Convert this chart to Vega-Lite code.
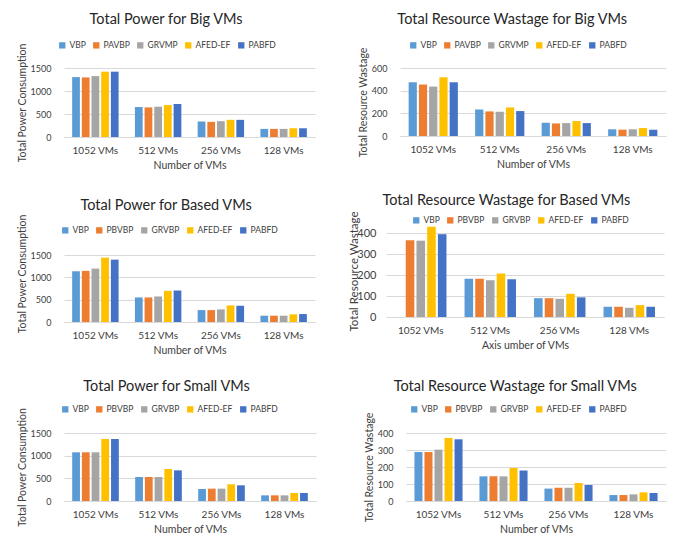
{
  "$schema": "https://vega.github.io/schema/vega-lite/v6.json",
  "padding": {"left": 17, "top": 11, "right": 5, "bottom": 5},
  "background": "white",
  "spacing": 22,
  "resolve": {"scale": {"color": "independent", "x": "independent", "y": "independent", "xOffset": "independent"}, "legend": {"color": "independent"}},
  "vconcat": [
    {
      "spacing": 43,
      "resolve": {"scale": {"color": "independent", "x": "independent", "y": "independent", "xOffset": "independent"}, "legend": {"color": "independent"}},
      "hconcat": [
        {
          "title": "Total Power for Big VMs",
          "width": 251, "height": 69,
          "data": {"values": [
            {"vms": "1052 VMs", "algo": "VBP", "value": 1302}, {"vms": "1052 VMs", "algo": "PAVBP", "value": 1295}, {"vms": "1052 VMs", "algo": "GRVMP", "value": 1324}, {"vms": "1052 VMs", "algo": "AFED-EF", "value": 1420}, {"vms": "1052 VMs", "algo": "PABFD", "value": 1420},
            {"vms": "512 VMs", "algo": "VBP", "value": 651}, {"vms": "512 VMs", "algo": "PAVBP", "value": 644}, {"vms": "512 VMs", "algo": "GRVMP", "value": 659}, {"vms": "512 VMs", "algo": "AFED-EF", "value": 695}, {"vms": "512 VMs", "algo": "PABFD", "value": 717},
            {"vms": "256 VMs", "algo": "VBP", "value": 337}, {"vms": "256 VMs", "algo": "PAVBP", "value": 329}, {"vms": "256 VMs", "algo": "GRVMP", "value": 344}, {"vms": "256 VMs", "algo": "AFED-EF", "value": 373}, {"vms": "256 VMs", "algo": "PABFD", "value": 373},
            {"vms": "128 VMs", "algo": "VBP", "value": 176}, {"vms": "128 VMs", "algo": "PAVBP", "value": 176}, {"vms": "128 VMs", "algo": "GRVMP", "value": 176}, {"vms": "128 VMs", "algo": "AFED-EF", "value": 190}, {"vms": "128 VMs", "algo": "PABFD", "value": 190}
          ]},
          "mark": {"type": "bar"},
          "encoding": {
            "x": {"field": "vms", "type": "nominal", "title": "Number of VMs", "scale": {"domain": ["1052 VMs", "512 VMs", "256 VMs", "128 VMs"], "paddingInner": 0.26, "paddingOuter": 0.13}},
            "xOffset": {"field": "algo", "type": "nominal", "scale": {"domain": ["VBP", "PAVBP", "GRVMP", "AFED-EF", "PABFD"], "paddingInner": 0.2}},
            "y": {"field": "value", "type": "quantitative", "title": "Total Power Consumption", "scale": {"domain": [0, 1500], "nice": false}, "axis": {"values": [0, 500, 1000, 1500], "format": "d"}},
            "color": {"field": "algo", "type": "nominal", "title": null, "scale": {"domain": ["VBP", "PAVBP", "GRVMP", "AFED-EF", "PABFD"], "range": ["#5B9BD5", "#ED7D31", "#A5A5A5", "#FFC000", "#4472C4"]}, "legend": {"orient": "none", "direction": "horizontal", "legendX": -6, "legendY": -27}}
          }
        },
        {
          "title": "Total Resource Wastage for Big VMs",
          "width": 266, "height": 68,
          "data": {"values": [
            {"vms": "1052 VMs", "algo": "VBP", "value": 474}, {"vms": "1052 VMs", "algo": "PAVBP", "value": 454}, {"vms": "1052 VMs", "algo": "GRVMP", "value": 436}, {"vms": "1052 VMs", "algo": "AFED-EF", "value": 518}, {"vms": "1052 VMs", "algo": "PABFD", "value": 474},
            {"vms": "512 VMs", "algo": "VBP", "value": 234}, {"vms": "512 VMs", "algo": "PAVBP", "value": 217}, {"vms": "512 VMs", "algo": "GRVMP", "value": 214}, {"vms": "512 VMs", "algo": "AFED-EF", "value": 252}, {"vms": "512 VMs", "algo": "PABFD", "value": 220},
            {"vms": "256 VMs", "algo": "VBP", "value": 117}, {"vms": "256 VMs", "algo": "PAVBP", "value": 111}, {"vms": "256 VMs", "algo": "GRVMP", "value": 114}, {"vms": "256 VMs", "algo": "AFED-EF", "value": 132}, {"vms": "256 VMs", "algo": "PABFD", "value": 114},
            {"vms": "128 VMs", "algo": "VBP", "value": 59}, {"vms": "128 VMs", "algo": "PAVBP", "value": 56}, {"vms": "128 VMs", "algo": "GRVMP", "value": 59}, {"vms": "128 VMs", "algo": "AFED-EF", "value": 70}, {"vms": "128 VMs", "algo": "PABFD", "value": 56}
          ]},
          "mark": {"type": "bar"},
          "encoding": {
            "x": {"field": "vms", "type": "nominal", "title": "Number of VMs", "scale": {"domain": ["1052 VMs", "512 VMs", "256 VMs", "128 VMs"], "paddingInner": 0.26, "paddingOuter": 0.13}},
            "xOffset": {"field": "algo", "type": "nominal", "scale": {"domain": ["VBP", "PAVBP", "GRVMP", "AFED-EF", "PABFD"], "paddingInner": 0.2}},
            "y": {"field": "value", "type": "quantitative", "title": "Total Resource Wastage", "scale": {"domain": [0, 600], "nice": false}, "axis": {"values": [0, 200, 400, 600], "format": "d"}},
            "color": {"field": "algo", "type": "nominal", "title": null, "scale": {"domain": ["VBP", "PAVBP", "GRVMP", "AFED-EF", "PABFD"], "range": ["#5B9BD5", "#ED7D31", "#A5A5A5", "#FFC000", "#4472C4"]}, "legend": {"orient": "none", "direction": "horizontal", "legendX": 9, "legendY": -27}}
          }
        }
      ]
    },
    {
      "spacing": 33,
      "resolve": {"scale": {"color": "independent", "x": "independent", "y": "independent", "xOffset": "independent"}, "legend": {"color": "independent"}},
      "hconcat": [
        {
          "title": {"text": "Total Power for Based VMs", "offset": 1},
          "width": 251, "height": 97,
          "data": {"values": [
            {"vms": "1052 VMs", "algo": "VBP", "value": 1136}, {"vms": "1052 VMs", "algo": "PBVBP", "value": 1144}, {"vms": "1052 VMs", "algo": "GRVBP", "value": 1196}, {"vms": "1052 VMs", "algo": "AFED-EF", "value": 1441}, {"vms": "1052 VMs", "algo": "PABFD", "value": 1396},
            {"vms": "512 VMs", "algo": "VBP", "value": 550}, {"vms": "512 VMs", "algo": "PBVBP", "value": 550}, {"vms": "512 VMs", "algo": "GRVBP", "value": 572}, {"vms": "512 VMs", "algo": "AFED-EF", "value": 698}, {"vms": "512 VMs", "algo": "PABFD", "value": 705},
            {"vms": "256 VMs", "algo": "VBP", "value": 267}, {"vms": "256 VMs", "algo": "PBVBP", "value": 267}, {"vms": "256 VMs", "algo": "GRVBP", "value": 282}, {"vms": "256 VMs", "algo": "AFED-EF", "value": 371}, {"vms": "256 VMs", "algo": "PABFD", "value": 364},
            {"vms": "128 VMs", "algo": "VBP", "value": 141}, {"vms": "128 VMs", "algo": "PBVBP", "value": 141}, {"vms": "128 VMs", "algo": "GRVBP", "value": 141}, {"vms": "128 VMs", "algo": "AFED-EF", "value": 171}, {"vms": "128 VMs", "algo": "PABFD", "value": 178}
          ]},
          "mark": {"type": "bar"},
          "encoding": {
            "x": {"field": "vms", "type": "nominal", "title": "Number of VMs", "scale": {"domain": ["1052 VMs", "512 VMs", "256 VMs", "128 VMs"], "paddingInner": 0.26, "paddingOuter": 0.13}},
            "xOffset": {"field": "algo", "type": "nominal", "scale": {"domain": ["VBP", "PBVBP", "GRVBP", "AFED-EF", "PABFD"], "paddingInner": 0.2}},
            "y": {"field": "value", "type": "quantitative", "title": "Total Power Consumption", "scale": {"domain": [0, 2172], "nice": false}, "axis": {"values": [0, 500, 1000, 1500], "format": "d"}},
            "color": {"field": "algo", "type": "nominal", "title": null, "scale": {"domain": ["VBP", "PBVBP", "GRVBP", "AFED-EF", "PABFD"], "range": ["#5B9BD5", "#ED7D31", "#A5A5A5", "#FFC000", "#4472C4"]}, "legend": {"orient": "none", "direction": "horizontal", "legendX": -3, "legendY": 1}}
          }
        },
        {
          "title": {"text": "Total Resource Wastage for Based VMs", "offset": 2},
          "width": 278, "height": 92,
          "data": {"values": [
            {"vms": "1052 VMs", "algo": "PBVBP", "value": 367}, {"vms": "1052 VMs", "algo": "GRVBP", "value": 365}, {"vms": "1052 VMs", "algo": "AFED-EF", "value": 432}, {"vms": "1052 VMs", "algo": "PABFD", "value": 396},
            {"vms": "512 VMs", "algo": "VBP", "value": 183}, {"vms": "512 VMs", "algo": "PBVBP", "value": 183}, {"vms": "512 VMs", "algo": "GRVBP", "value": 176}, {"vms": "512 VMs", "algo": "AFED-EF", "value": 208}, {"vms": "512 VMs", "algo": "PABFD", "value": 181},
            {"vms": "256 VMs", "algo": "VBP", "value": 90}, {"vms": "256 VMs", "algo": "PBVBP", "value": 90}, {"vms": "256 VMs", "algo": "GRVBP", "value": 87}, {"vms": "256 VMs", "algo": "AFED-EF", "value": 111}, {"vms": "256 VMs", "algo": "PABFD", "value": 94},
            {"vms": "128 VMs", "algo": "VBP", "value": 49}, {"vms": "128 VMs", "algo": "PBVBP", "value": 49}, {"vms": "128 VMs", "algo": "GRVBP", "value": 44}, {"vms": "128 VMs", "algo": "AFED-EF", "value": 57}, {"vms": "128 VMs", "algo": "PABFD", "value": 49}
          ]},
          "mark": {"type": "bar"},
          "encoding": {
            "x": {"field": "vms", "type": "nominal", "title": "Axis umber of VMs", "scale": {"domain": ["1052 VMs", "512 VMs", "256 VMs", "128 VMs"], "paddingInner": 0.26, "paddingOuter": 0.13}, "axis": {"labelPadding": 8, "titlePadding": 5}},
            "xOffset": {"field": "algo", "type": "nominal", "scale": {"domain": ["VBP", "PBVBP", "GRVBP", "AFED-EF", "PABFD"], "paddingInner": 0.2}},
            "y": {"field": "value", "type": "quantitative", "title": "Total Resource Wastage", "scale": {"domain": [0, 440], "nice": false}, "axis": {"values": [0, 100, 200, 300, 400], "format": "d", "labelPadding": 10, "titlePadding": -3, "labelFontSize": 11, "titleFontSize": 11.5}},
            "color": {"field": "algo", "type": "nominal", "title": null, "scale": {"domain": ["VBP", "PBVBP", "GRVBP", "AFED-EF", "PABFD"], "range": ["#5B9BD5", "#ED7D31", "#A5A5A5", "#FFC000", "#4472C4"]}, "legend": {"orient": "none", "direction": "horizontal", "legendX": 26, "legendY": -9}}
          }
        }
      ]
    },
    {
      "spacing": 48,
      "resolve": {"scale": {"color": "independent", "x": "independent", "y": "independent", "xOffset": "independent"}, "legend": {"color": "independent"}},
      "hconcat": [
        {
          "title": {"text": "Total Power for Small VMs", "offset": 11},
          "width": 252, "height": 68,
          "data": {"values": [
            {"vms": "1052 VMs", "algo": "VBP", "value": 1074}, {"vms": "1052 VMs", "algo": "PBVBP", "value": 1074}, {"vms": "1052 VMs", "algo": "GRVBP", "value": 1074}, {"vms": "1052 VMs", "algo": "AFED-EF", "value": 1368}, {"vms": "1052 VMs", "algo": "PABFD", "value": 1368},
            {"vms": "512 VMs", "algo": "VBP", "value": 529}, {"vms": "512 VMs", "algo": "PBVBP", "value": 529}, {"vms": "512 VMs", "algo": "GRVBP", "value": 529}, {"vms": "512 VMs", "algo": "AFED-EF", "value": 706}, {"vms": "512 VMs", "algo": "PABFD", "value": 676},
            {"vms": "256 VMs", "algo": "VBP", "value": 265}, {"vms": "256 VMs", "algo": "PBVBP", "value": 272}, {"vms": "256 VMs", "algo": "GRVBP", "value": 272}, {"vms": "256 VMs", "algo": "AFED-EF", "value": 368}, {"vms": "256 VMs", "algo": "PABFD", "value": 346},
            {"vms": "128 VMs", "algo": "VBP", "value": 125}, {"vms": "128 VMs", "algo": "PBVBP", "value": 125}, {"vms": "128 VMs", "algo": "GRVBP", "value": 125}, {"vms": "128 VMs", "algo": "AFED-EF", "value": 176}, {"vms": "128 VMs", "algo": "PABFD", "value": 176}
          ]},
          "mark": {"type": "bar"},
          "encoding": {
            "x": {"field": "vms", "type": "nominal", "title": "Number of VMs", "scale": {"domain": ["1052 VMs", "512 VMs", "256 VMs", "128 VMs"], "paddingInner": 0.26, "paddingOuter": 0.13}},
            "xOffset": {"field": "algo", "type": "nominal", "scale": {"domain": ["VBP", "PBVBP", "GRVBP", "AFED-EF", "PABFD"], "paddingInner": 0.2}},
            "y": {"field": "value", "type": "quantitative", "title": "Total Power Consumption", "scale": {"domain": [0, 1500], "nice": false}, "axis": {"values": [0, 500, 1000, 1500], "format": "d"}},
            "color": {"field": "algo", "type": "nominal", "title": null, "scale": {"domain": ["VBP", "PBVBP", "GRVBP", "AFED-EF", "PABFD"], "range": ["#5B9BD5", "#ED7D31", "#A5A5A5", "#FFC000", "#4472C4"]}, "legend": {"orient": "none", "direction": "horizontal", "legendX": -3, "legendY": -28}}
          }
        },
        {
          "title": {"text": "Total Resource Wastage for Small VMs", "offset": 11},
          "width": 260, "height": 68,
          "data": {"values": [
            {"vms": "1052 VMs", "algo": "VBP", "value": 288}, {"vms": "1052 VMs", "algo": "PBVBP", "value": 288}, {"vms": "1052 VMs", "algo": "GRVBP", "value": 302}, {"vms": "1052 VMs", "algo": "AFED-EF", "value": 371}, {"vms": "1052 VMs", "algo": "PABFD", "value": 363},
            {"vms": "512 VMs", "algo": "VBP", "value": 145}, {"vms": "512 VMs", "algo": "PBVBP", "value": 145}, {"vms": "512 VMs", "algo": "GRVBP", "value": 145}, {"vms": "512 VMs", "algo": "AFED-EF", "value": 194}, {"vms": "512 VMs", "algo": "PABFD", "value": 180},
            {"vms": "256 VMs", "algo": "VBP", "value": 73}, {"vms": "256 VMs", "algo": "PBVBP", "value": 78}, {"vms": "256 VMs", "algo": "GRVBP", "value": 78}, {"vms": "256 VMs", "algo": "AFED-EF", "value": 106}, {"vms": "256 VMs", "algo": "PABFD", "value": 94},
            {"vms": "128 VMs", "algo": "VBP", "value": 35}, {"vms": "128 VMs", "algo": "PBVBP", "value": 35}, {"vms": "128 VMs", "algo": "GRVBP", "value": 39}, {"vms": "128 VMs", "algo": "AFED-EF", "value": 51}, {"vms": "128 VMs", "algo": "PABFD", "value": 47}
          ]},
          "mark": {"type": "bar"},
          "encoding": {
            "x": {"field": "vms", "type": "nominal", "title": "Number of VMs", "scale": {"domain": ["1052 VMs", "512 VMs", "256 VMs", "128 VMs"], "paddingInner": 0.26, "paddingOuter": 0.13}},
            "xOffset": {"field": "algo", "type": "nominal", "scale": {"domain": ["VBP", "PBVBP", "GRVBP", "AFED-EF", "PABFD"], "paddingInner": 0.2}},
            "y": {"field": "value", "type": "quantitative", "title": "Total Resource Wastage", "scale": {"domain": [0, 400], "nice": false}, "axis": {"values": [0, 100, 200, 300, 400], "format": "d"}},
            "color": {"field": "algo", "type": "nominal", "title": null, "scale": {"domain": ["VBP", "PBVBP", "GRVBP", "AFED-EF", "PABFD"], "range": ["#5B9BD5", "#ED7D31", "#A5A5A5", "#FFC000", "#4472C4"]}, "legend": {"orient": "none", "direction": "horizontal", "legendX": 4, "legendY": -28}}
          }
        }
      ]
    }
  ],
  "config": {
    "font": "Lato",
    "view": {"stroke": null},
    "axis": {"labelColor": "#404040", "titleColor": "#404040", "labelFont": "Lato", "titleFont": "Lato", "titleFontWeight": "normal", "labelFontSize": 10, "titleFontSize": 10.5, "ticks": false, "grid": false},
    "axisY": {"grid": true, "gridColor": "#d9d9d9", "domain": false, "labelPadding": 13, "titlePadding": 3, "labelFontSize": 9},
    "axisX": {"domainColor": "#d9d9d9", "labelPadding": 8, "labelAngle": 0, "titlePadding": 5, "titleFontSize": 10.5},
    "title": {"fontSize": 14.5, "fontWeight": "normal", "color": "#262626", "font": "Lato", "frame": "bounds", "anchor": "middle", "offset": 14},
    "legend": {"labelFont": "Lato", "labelFontSize": 8.5, "labelColor": "#404040", "symbolType": "square", "symbolSize": 40, "symbolStrokeWidth": 0, "labelOffset": 3, "columnPadding": 6, "padding": 0}
  }
}
